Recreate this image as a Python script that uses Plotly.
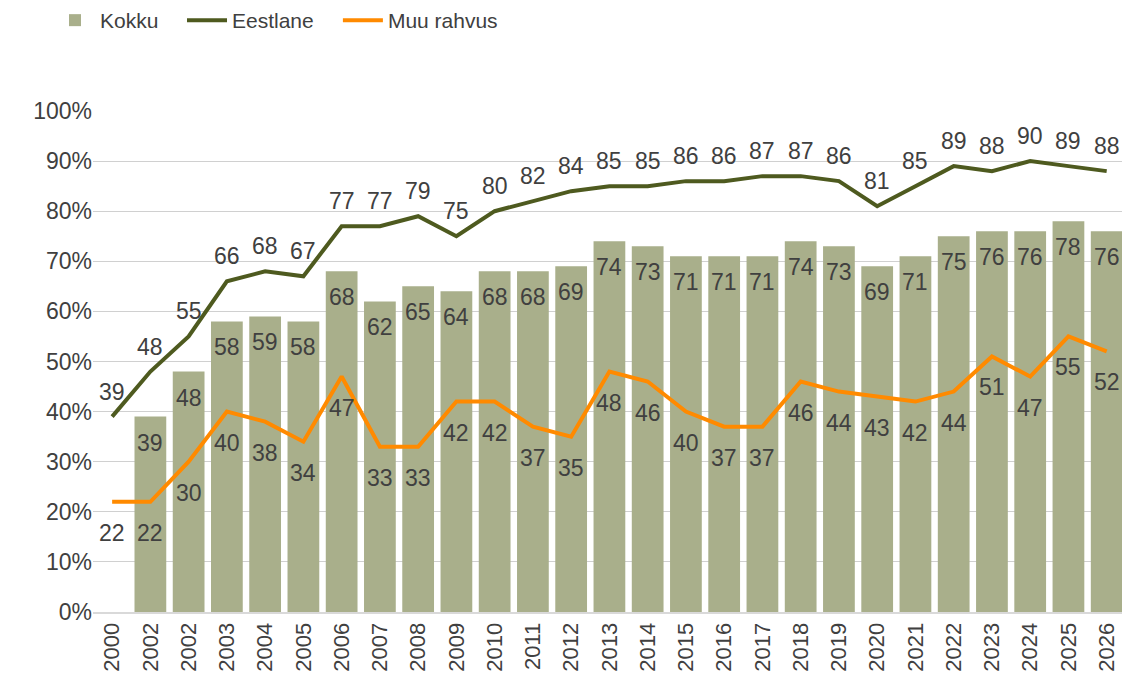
import plotly.graph_objects as go

years = ["2000", "2002", "2002", "2003", "2004", "2005", "2006", "2007", "2008", "2009",
         "2010", "2011", "2012", "2013", "2014", "2015", "2016", "2017", "2018", "2019",
         "2020", "2021", "2022", "2023", "2024", "2025", "2026"]
kokku = [None, 39, 48, 58, 59, 58, 68, 62, 65, 64, 68, 68, 69, 74, 73, 71, 71, 71, 74, 73,
         69, 71, 75, 76, 76, 78, 76]
eestlane = [39, 48, 55, 66, 68, 67, 77, 77, 79, 75, 80, 82, 84, 85, 85, 86, 86, 87, 87, 86,
            81, 85, 89, 88, 90, 89, 88]
muu = [22, 22, 30, 40, 38, 34, 47, 33, 33, 42, 42, 37, 35, 48, 46, 40, 37, 37, 46, 44,
       43, 42, 44, 51, 47, 55, 52]
yticks = [0, 10, 20, 30, 40, 50, 60, 70, 80, 90, 100]
ytick_labels = [f"{v}%" for v in yticks]

pos = list(range(len(years)))
BAR = "#A9AF8B"
DARK = "#4E5A1F"
ORANGE = "#FF8A00"
TXT = "#404040"
FONT = "Liberation Sans, Arial, sans-serif"

fig = go.Figure()
fig.add_trace(go.Bar(x=pos, y=kokku, name="Kokku", marker_color=BAR, marker_line_width=0,
                     legend="legend"))
fig.add_trace(go.Scatter(x=pos, y=eestlane, name="Eestlane", mode="lines",
                         line=dict(color=DARK, width=4), legend="legend2"))
fig.add_trace(go.Scatter(x=pos, y=muu, name="Muu rahvus", mode="lines",
                         line=dict(color=ORANGE, width=4), legend="legend3"))

ann = []
for i, v in enumerate(kokku):
    if v is not None:
        ann.append(dict(x=i, y=v, text=str(v), yshift=-26, showarrow=False))
for i, v in enumerate(eestlane):
    ann.append(dict(x=i, y=v, text=str(v), yshift=25, showarrow=False))
for i, v in enumerate(muu):
    ann.append(dict(x=i, y=v, text=str(v), yshift=-31, showarrow=False))
for a in ann:
    a.update(xref="x", yref="y", font=dict(size=23, color=TXT, family=FONT))

def leg(x):
    return dict(orientation="h", x=x, xanchor="left", y=1.222, yanchor="top",
                font=dict(size=21, color=TXT), itemwidth=40, bgcolor="rgba(0,0,0,0)")

fig.update_layout(
    width=1122, height=682,
    margin=dict(l=93, r=0, t=110, b=70),
    paper_bgcolor="white", plot_bgcolor="white",
    font=dict(family=FONT, color=TXT, size=22),
    bargap=0.17,
    annotations=ann,
    showlegend=True,
    legend=leg(-0.0418),
    legend2=leg(0.0865),
    legend3=leg(0.238),
    xaxis=dict(tickmode="array", tickvals=pos, ticktext=years, tickangle=-90,
               range=[-0.5, 26.4], showgrid=False, showline=True, linecolor="#d9d9d9",
               linewidth=2, ticks="", tickfont=dict(size=22, color=TXT)),
    yaxis=dict(range=[0, 100], tickmode="array", tickvals=yticks, ticktext=ytick_labels,
               showgrid=True, gridcolor="#d0d0d0", gridwidth=1, zeroline=False, ticks="",
               tickfont=dict(size=23, color=TXT)),
)

fig.write_html("out.html", config={"displayModeBar": False},
               post_script="document.body.style.margin='0';document.body.style.overflow='hidden';")
